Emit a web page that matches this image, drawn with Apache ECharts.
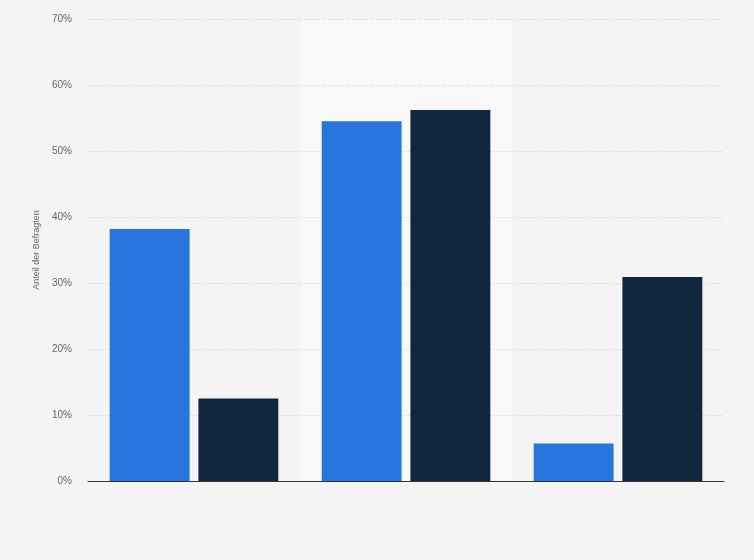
<!DOCTYPE html>
<html><head><meta charset="utf-8">
<script src="https://cdn.jsdelivr.net/npm/echarts@6/dist/echarts.min.js"></script>
<style>html,body{margin:0;padding:0;background:#f4f4f4}#c{width:754px;height:560px}</style>
</head><body><div id="c"></div>
<script>
const categories = ['A', 'B', 'C'];
const seriesA = [38.2, 54.5, 5.7];
const seriesB = [12.5, 56.2, 30.9];
const highlightBand = [null, 70, null];
const yTicks = [0, 10, 20, 30, 40, 50, 60, 70];

const chart = echarts.init(document.getElementById('c'));
chart.setOption({
  backgroundColor: '#f4f4f4',
  animation: false,
  grid: { left: 88, right: 30, top: 19, bottom: 79 },
  xAxis: [{
    type: 'category', data: categories,
    axisLine: { lineStyle: { color: '#333', width: 1 } },
    axisTick: { show: false }, axisLabel: { show: false }
  }, {
    type: 'category', data: categories, show: false
  }],
  yAxis: {
    type: 'value', min: yTicks[0], max: yTicks[yTicks.length - 1], interval: 10,
    name: 'Anteil der Befragten', nameLocation: 'middle', nameGap: 47,
    nameTextStyle: { color: '#666', fontSize: 9, fontFamily: 'Arial, Liberation Sans' },
    axisLine: { show: false }, axisTick: { show: false },
    axisLabel: { formatter: '{value}%', color: '#666', fontSize: 10, margin: 16, padding: [7, 0, 0, 0], fontFamily: 'Arial, Liberation Sans' },
    splitLine: { lineStyle: { color: '#cfcfcf', type: [1, 2] } }
  },
  series: [{
    type: 'bar', xAxisIndex: 1, data: highlightBand, barWidth: '100%',
    itemStyle: { color: '#f8f8f8' }, z: -1, silent: true
  }, {
    type: 'bar', data: seriesA, barWidth: '37.7%', barGap: '11%',
    itemStyle: { color: '#2876dd' }, z: 3
  }, {
    type: 'bar', data: seriesB, barWidth: '37.7%', barGap: '11%',
    itemStyle: { color: '#10273f' }, z: 3
  }]
});
</script></body></html>
